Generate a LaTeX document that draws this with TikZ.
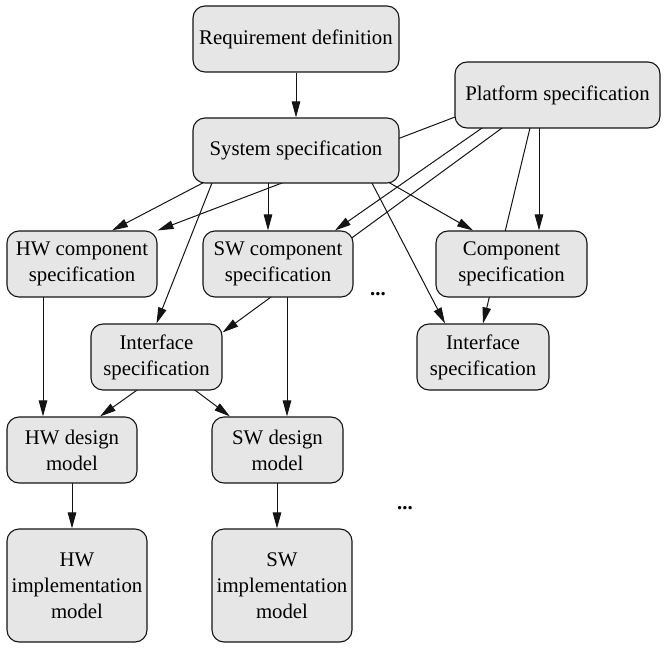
\documentclass[tikz,border=0pt]{standalone}
\usepackage{fontspec}
\setmainfont{Liberation Serif}
\usetikzlibrary{arrows.meta,calc}
\pgfdeclarelayer{edges}
\pgfsetlayers{edges,main}
\definecolor{boxfill}{RGB}{230,230,230}
\definecolor{ink}{RGB}{20,20,20}
\tikzset{
  stage/.style={draw=ink, line width=1.1pt, fill=boxfill, rounded corners=12pt,
    align=center, inner sep=0pt, font=\fontsize{20.8}{26}\selectfont},
  flow/.style={draw=ink, line width=1pt, -{Triangle[length=16pt,width=8.5pt]}},
  more/.style={font=\fontsize{20.8}{26}\selectfont\bfseries}
}
\begin{document}
\begin{tikzpicture}[x=1pt,y=-1pt]
\useasboundingbox (0,0) rectangle (664,650);

% process stages
\node[stage, minimum width=206pt, minimum height=66pt] (req)  at (296,39)    {Requirement definition};
\node[stage, minimum width=205pt, minimum height=66pt] (plat) at (557.5,95)  {Platform specification};
\node[stage, minimum width=206pt, minimum height=65pt] (sys)  at (296,150.5) {System specification};
\node[stage, minimum width=150pt, minimum height=66pt] (hwc)  at (82,264)    {HW component\\specification};
\node[stage, minimum width=150pt, minimum height=66pt] (swc)  at (278,264)   {SW component\\specification};
\node[stage, minimum width=151pt, minimum height=66pt] (comp) at (511.5,264) {Component\\specification};
\node[stage, minimum width=131pt, minimum height=66pt] (ifl)  at (156.5,357) {Interface\\specification};
\node[stage, minimum width=132pt, minimum height=66pt] (ifr)  at (483,357)   {Interface\\specification};
\node[stage, minimum width=130pt, minimum height=66pt] (hwd)  at (72,450)    {HW design\\model};
\node[stage, minimum width=131pt, minimum height=66pt] (swd)  at (277.5,450) {SW design\\model};
\node[stage, minimum width=140pt, minimum height=113pt] (hwi) at (77,585.5)  {HW\\implementation\\model};
\node[stage, minimum width=140pt, minimum height=113pt] (swi) at (282,585.5) {SW\\implementation\\model};

\node[more] (dotsa) at (378,294) {...};
\node[more] (dotsb) at (405,508) {...};

% refinement edges (drawn beneath the boxes)
\begin{pgfonlayer}{edges}
\draw[flow] (req.south) -- (sys.north);
\draw[flow] ($(sys.center)+(-68.4,19.5)$) -- ($(hwc.north)+(30,0)$);
\draw[flow] ($(plat.center)+(-87.5,16.3)$) -- (hwc.north east);
\draw[flow] ($(sys.center)+(-78.9,19.5)$) -- (ifl.north);
\draw[flow] ($(sys.center)+(-28,19.5)$) -- ($(swc.north)+(-10,0)$);
\draw[flow] ($(plat.center)+(-56.8,20)$) -- ($(swc.north)+(57,0)$);
\draw[flow] ($(plat.center)+(-37.7,20)$) -- ($(ifl.north east)+(0,9)$);
\draw[flow] ($(sys.center)+(71,19.5)$) -- ($(comp.north)+(-38.5,0)$);
\draw[flow] ($(sys.center)+(69.2,19.5)$) -- ($(ifr.north)+(-38,0)$);
\draw[flow] ($(plat.center)+(-24.4,20)$) -- (ifr.north);
\draw[flow] ($(plat.center)+(-18.5,20)$) -- ($(comp.north)+(27.5,0)$);
\draw[flow] ($(hwc.south)+(-39,-5)$) -- ($(hwd.north)+(-29,0)$);
\draw[flow] ($(ifl.center)+(-5.3,23)$) -- ($(hwd.north)+(28,0)$);
\draw[flow] ($(ifl.center)+(25,23)$) -- ($(swd.north)+(-47.5,0)$);
\draw[flow] ($(swc.south)+(9,-5)$) -- ($(swd.north)+(9.5,0)$);
\draw[flow] ($(hwd.south)+(0,-5)$) -- ($(hwi.north)+(-5,0)$);
\draw[flow] ($(swd.south)+(-0.5,-5)$) -- ($(swi.north)+(-5,0)$);
\end{pgfonlayer}
\end{tikzpicture}
\end{document}
